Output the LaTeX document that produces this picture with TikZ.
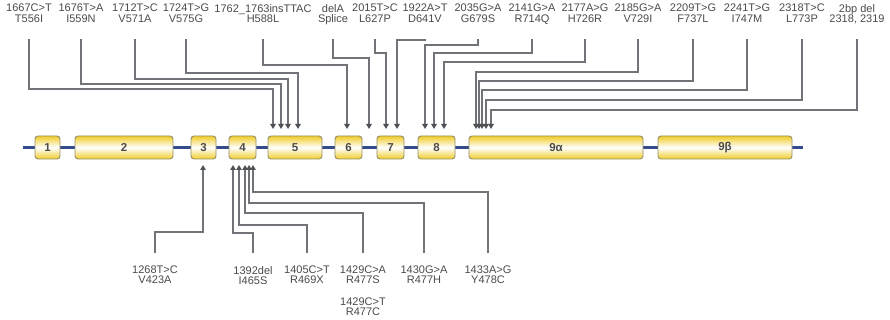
\documentclass[tikz,border=0pt]{standalone}
\usepackage{fontspec}
\setmainfont{Liberation Sans}
\usetikzlibrary{arrows.meta}
\definecolor{exony}{RGB}{240,204,40}
\definecolor{exonb}{RGB}{150,142,104}
\definecolor{bbc}{RGB}{52,76,140}
\definecolor{connc}{RGB}{112,116,120}
\definecolor{tipc}{RGB}{78,82,86}
\definecolor{txt}{RGB}{75,75,75}
\begin{document}
\begin{tikzpicture}[x=1pt,y=-1pt,
  exon/.style={draw=exonb, line width=0.9pt, rounded corners=3pt,
    top color=exony, bottom color=exony, middle color=white,
    minimum height=23pt, inner sep=0pt,
    font=\fontsize{11.5}{11.5}\selectfont\bfseries, text=txt},
  lab/.style={font=\fontsize{11}{10.5}\selectfont, text=txt, align=center,
    inner sep=0pt, anchor=north},
  conn/.style={draw=connc, line width=1.25pt,
    -{Triangle[width=5.5pt,length=5pt,color=tipc]}},
  backbone/.style={draw=bbc, line width=3pt}]
\useasboundingbox (0,0) rectangle (890,320);
\fill[white] (0,0) rectangle (890,320);

% backbone
\coordinate (bbL) at (23,147.5);
\coordinate (bbR) at (803,147.5);
\draw[backbone] (bbL) -- (bbR);

% exons
\node[exon, minimum width=25pt]  (e1)  at (47.5,147.5) {1};
\node[exon, minimum width=98pt]  (e2)  at (124,147.5) {2};
\node[exon, minimum width=25pt]  (e3)  at (203.5,147.5) {3};
\node[exon, minimum width=27pt]  (e4)  at (242.5,147.5) {4};
\node[exon, minimum width=54pt]  (e5)  at (295,147.5) {5};
\node[exon, minimum width=27pt]  (e6)  at (348.5,147.5) {6};
\node[exon, minimum width=27pt]  (e7)  at (390.5,147.5) {7};
\node[exon, minimum width=37pt]  (e8)  at (436.5,147.5) {8};
\node[exon, minimum width=174pt] (e9a) at (556,147.5) {9α};
\node[exon, minimum width=134pt] (e9b) at (725,147.5) {9β};

% reference levels
\coordinate (topline) at (0,39);
\coordinate (botline) at (0,253);

% top labels
\node[lab] (L1)  at (29,4)  {1667C>T\\T556I};
\node[lab] (L2)  at (81,4)  {1676T>A\\I559N};
\node[lab] (L3)  at (135,4) {1712T>C\\V571A};
\node[lab] (L4)  at (186,4) {1724T>G\\V575G};
\node[lab] (L5)  at (263,4) {1762\_1763insTTAC\\H588L};
\node[lab] (L6)  at (333,4) {delA\\Splice};
\node[lab] (L7)  at (375,4) {2015T>C\\L627P};
\node[lab] (L8)  at (425,4) {1922A>T\\D641V};
\node[lab] (L9)  at (478,4) {2035G>A\\G679S};
\node[lab] (L10) at (532,4) {2141G>A\\R714Q};
\node[lab] (L11) at (585,4) {2177A>G\\H726R};
\node[lab] (L12) at (638,4) {2185G>A\\V729I};
\node[lab] (L13) at (693,4) {2209T>G\\F737L};
\node[lab] (L14) at (747,4) {2241T>G\\I747M};
\node[lab] (L15) at (802,4) {2318T>C\\L773P};
\node[lab] (L16) at (857,4) {2bp del\\2318, 2319};

% top arrow tips
\coordinate (t1)  at (273,129);
\coordinate (t2)  at (281,129);
\coordinate (t3)  at (288,129);
\coordinate (t4)  at (298,129);
\coordinate (t5)  at (347,129);
\coordinate (t6)  at (369,129);
\coordinate (t7)  at (386,129);
\coordinate (t8)  at (397,129);
\coordinate (t9)  at (425,129);
\coordinate (t10) at (434,129);
\coordinate (t11) at (444,129);
\coordinate (t12) at (476,129);
\coordinate (t13) at (479,129);
\coordinate (t14) at (482,129);
\coordinate (t15) at (486,129);
\coordinate (t16) at (491,129);

% top connectors
\draw[conn] (L1.south |- topline)  |- (273,89)  -- (t1);
\draw[conn] (L2.south |- topline)  |- (281,84)  -- (t2);
\draw[conn] (L3.south |- topline)  |- (288,79)  -- (t3);
\draw[conn] (L4.south |- topline)  |- (298,73)  -- (t4);
\draw[conn] (L5.south |- topline)  |- (347,65)  -- (t5);
\draw[conn] (L6.south |- topline)  |- (369,58)  -- (t6);
\draw[conn] (L7.south |- topline)  |- (386,53)  -- (t7);
\draw[conn] (L8.south |- topline)  |- (397,40)  -- (t8);
\draw[conn] (L9.south |- topline)  |- (425,45)  -- (t9);
\draw[conn] (L10.south |- topline) |- (434,53)  -- (t10);
\draw[conn] (L11.south |- topline) |- (444,62)  -- (t11);
\draw[conn] (L12.south |- topline) |- (476,72)  -- (t12);
\draw[conn] (L13.south |- topline) |- (479,81)  -- (t13);
\draw[conn] (L14.south |- topline) |- (482,90)  -- (t14);
\draw[conn] (L15.south |- topline) |- (486,100) -- (t15);
\draw[conn] (L16.south |- topline) |- (491,110) -- (t16);

% bottom labels
\node[lab, font=\fontsize{11}{10}\selectfont] (B1) at (155,266) {1268T>C\\V423A};
\node[lab, font=\fontsize{11}{10}\selectfont] (B2) at (253,266) {1392del\\I465S};
\node[lab, font=\fontsize{11}{10}\selectfont] (B3) at (307,266) {1405C>T\\R469X};
\node[lab, font=\fontsize{11}{10}\selectfont] (B4) at (363,266) {1429C>A\\R477S};
\node[lab, font=\fontsize{11}{10}\selectfont] (B5) at (424,266) {1430G>A\\R477H};
\node[lab, font=\fontsize{11}{10}\selectfont] (B6) at (488,266) {1433A>G\\Y478C};
\node[lab, font=\fontsize{11}{10}\selectfont] (B7) at (363,298) {1429C>T\\R477C};

% bottom arrow tips
\coordinate (u1) at (203,165);
\coordinate (u2) at (233,165);
\coordinate (u3) at (239,165);
\coordinate (u4) at (245,165);
\coordinate (u5) at (249,165);
\coordinate (u6) at (253,165);

% bottom connectors
\draw[conn] (B1.north |- botline) |- (203,232) -- (u1);
\draw[conn] (B2.north |- botline) |- (233,233) -- (u2);
\draw[conn] (B3.north |- botline) |- (239,225) -- (u3);
\draw[conn] (B4.north |- botline) |- (245,213) -- (u4);
\draw[conn] (B5.north |- botline) |- (249,203) -- (u5);
\draw[conn] (B6.north |- botline) |- (253,192) -- (u6);
\end{tikzpicture}
\end{document}
